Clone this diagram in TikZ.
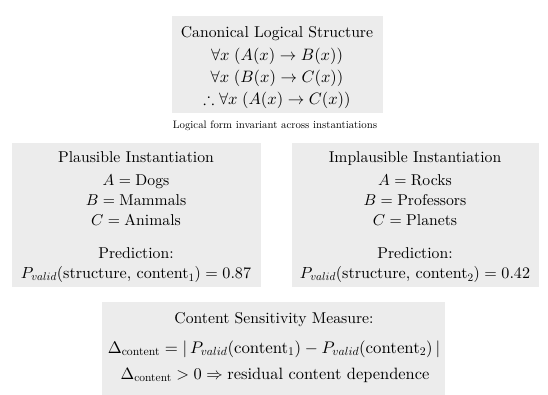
\RequirePackage{fix-cm}
\documentclass[tikz,border=0pt]{standalone}
\usepackage{amsmath,amssymb}
\usepackage{fontspec}
\setmainfont{lmroman10-regular}[Extension=.otf, BoldFont=lmroman10-bold, ItalicFont=lmroman10-italic, BoldItalicFont=lmroman10-bolditalic]
\DeclareFontShape{OML}{cmm}{m}{it}{<-> cmmi10}{}
\DeclareFontShape{OMS}{cmsy}{m}{n}{<-> cmsy10}{}
\DeclareFontShape{OT1}{cmr}{m}{n}{<-> cmr10}{}
\definecolor{boxgray}{HTML}{ECECEC}
\begin{document}
\begin{tikzpicture}[x=1pt,y=-1pt,
  box/.style={fill=boxgray, draw=none, inner sep=0pt},
  txt/.style={anchor=base, inner sep=0pt, font=\fontsize{15.7}{18}\selectfont},
  mtxt/.style={anchor=base, inner sep=0pt, font=\fontsize{16.5}{18}\selectfont},
  captxt/.style={anchor=base, inner sep=0pt, font=\fontsize{10.8}{13}\selectfont}]
\useasboundingbox (0,0) rectangle (548,394);
\fill[white] (0,0) rectangle (548,394);
% boxes
\node[box, minimum width=211, minimum height=97] (topbox) at (277.5,64.5) {};
\node[box, minimum width=249, minimum height=144] (leftbox) at (136.5,215) {};
\node[box, minimum width=247, minimum height=144] (rightbox) at (415.5,215) {};
\node[box, minimum width=343, minimum height=94] (botbox) at (273.5,349) {};
% top
\node[txt] (t1) at (277,37) {Canonical Logical Structure};
\node[mtxt] (t2) at (277,60) {$\forall x\;(A(x)\rightarrow B(x))$};
\node[mtxt] (t3) at (277,82) {$\forall x\;(B(x)\rightarrow C(x))$};
\node[mtxt] (t4) at (277,104) {$\therefore\forall x\;(A(x)\rightarrow C(x))$};
\node[captxt] (c1) at (275,128) {Logical form invariant across instantiations};
% left
\node[txt] (l1) at (136,162) {Plausible Instantiation};
\node[txt] (l2) at (136,185) {$A=\text{Dogs}$};
\node[txt] (l3) at (136,205) {$B=\text{Mammals}$};
\node[txt] (l4) at (136,225) {$C=\text{Animals}$};
\node[txt] (l5) at (136,258) {Prediction:};
\node[txt, font=\fontsize{16.1}{18}\selectfont] (l6) at (136,278) {$P_{valid}(\text{structure, content}_1)=0.87$};
% right
\node[txt] (r1) at (415,162) {Implausible Instantiation};
\node[txt] (r2) at (415,185) {$A=\text{Rocks}$};
\node[txt] (r3) at (415,205) {$B=\text{Professors}$};
\node[txt] (r4) at (415,225) {$C=\text{Planets}$};
\node[txt] (r5) at (415,258) {Prediction:};
\node[txt, font=\fontsize{16.1}{18}\selectfont] (r6) at (415,278) {$P_{valid}(\text{structure, content}_2)=0.42$};
% bottom
\node[txt] (b1) at (274,323) {Content Sensitivity Measure:};
\node[txt, font=\fontsize{16.8}{18}\selectfont] (b2) at (274,353) {$\Delta_{\text{content}}=|\,P_{valid}(\text{content}_1)-P_{valid}(\text{content}_2)\,|$};
\node[txt, font=\fontsize{16.4}{18}\selectfont] (b3) at (275,379) {$\Delta_{\text{content}}>0\Rightarrow\text{residual content dependence}$};
\end{tikzpicture}
\end{document}
